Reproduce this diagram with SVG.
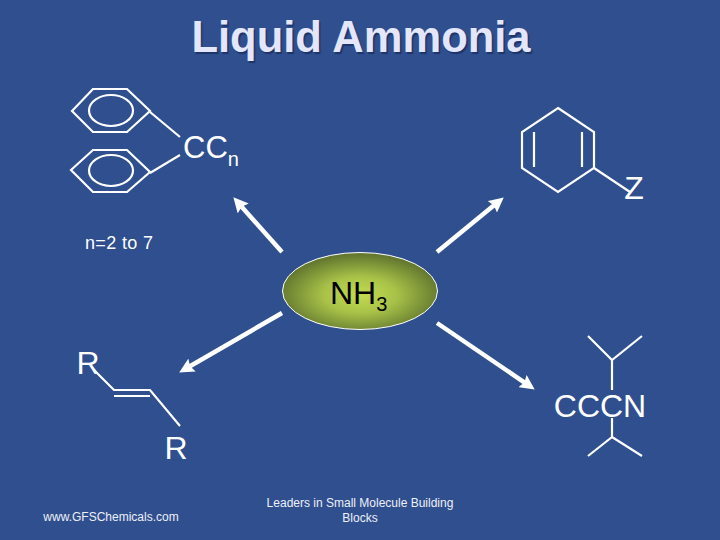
<svg xmlns="http://www.w3.org/2000/svg" width="720" height="540" viewBox="0 0 720 540">
<defs>
<radialGradient id="glow" cx="50%" cy="55%" r="52%">
<stop offset="0" stop-color="#c2dc50"/>
<stop offset="0.45" stop-color="#a8c248"/>
<stop offset="1" stop-color="#64782f"/>
</radialGradient>
<marker id="head" viewBox="0 0 10 10" refX="5" refY="5" markerWidth="3.300" markerHeight="3.300" orient="auto">
<path d="M0 0L10 5L0 10L1.500 5Z" fill="#fff"/>
</marker>
</defs>
<style>
text{font-family:"Liberation Sans",Arial,sans-serif;fill:#fff}
.bond{fill:none;stroke:#fff;stroke-width:2.200}
.arrow{fill:none;stroke:#fff;stroke-width:4.500;marker-end:url(#head)}
.lab{font-size:32px}
.sub{font-size:20px}
.small{font-size:12px;fill:#eef0f6}
#title{fill:#e4e6fb;text-shadow:1.500px 1.500px 1px #1d3468}
</style>
<rect width="720" height="540" fill="#2f4f8f"/>
<text id="title" x="361" y="52" text-anchor="middle" font-size="43.500" font-weight="bold">Liquid Ammonia</text>
<g id="connectors">
<path class="arrow" d="M282 252L238.300 202.900"/>
<path class="arrow" d="M437 252L498 202.100"/>
<path class="arrow" d="M282 313L185.600 368.800"/>
<path class="arrow" d="M437 323L528.600 385.300"/>
</g>
<g id="node-ammonia">
<ellipse cx="360" cy="291" rx="77.500" ry="38.500" fill="url(#glow)" stroke="#fff" stroke-width="1"/>
<text x="330" y="304" class="lab" style="fill:#000">NH<tspan class="sub" dy="7">3</tspan></text>
</g>
<g id="node-diphenyl">
<path class="bond" d="M72 111L93 89H127L150 111L127 132H93Z"/>
<ellipse class="bond" cx="111" cy="110.500" rx="22" ry="15.500"/>
<path class="bond" d="M71 170L93 150H127L150 172L127 192H93Z"/>
<ellipse class="bond" cx="111" cy="170.500" rx="22" ry="15.500"/>
<path class="bond" d="M150 112L180 137M150 173L180 155"/>
<text x="183" y="158" font-size="31">CC<tspan class="sub" dy="8">n</tspan></text>
<text x="85" y="249" font-size="18" textLength="68" lengthAdjust="spacing">n=2 to 7</text>
</g>
<g id="node-cyclohexadiene">
<path class="bond" d="M558 108L594 132V168L558 192L522 168V132Z"/>
<path class="bond" d="M534 132V167M582 132V167M594 168L630 192"/>
<text x="634" y="199" class="lab" text-anchor="middle">Z</text>
</g>
<g id="node-alkene">
<path class="bond" d="M94 370L114 390H150L180 426M114 396H150"/>
<text x="88" y="374" class="lab" text-anchor="middle">R</text>
<text x="176" y="459" class="lab" text-anchor="middle">R</text>
</g>
<g id="node-nitrile">
<path class="bond" d="M588 336L612 360L642 336M612 360V390M612 418V437L588 456M612 437L642 456"/>
<text x="600" y="417" class="lab" text-anchor="middle">CCCN</text>
</g>
<text id="footer-left" x="111" y="521" text-anchor="middle" class="small">www.GFSChemicals.com</text>
<g id="footer-center" class="small">
<text x="360" y="507" text-anchor="middle" class="small">Leaders in Small Molecule Building</text>
<text x="360" y="522" text-anchor="middle" class="small">Blocks</text>
</g>
</svg>
